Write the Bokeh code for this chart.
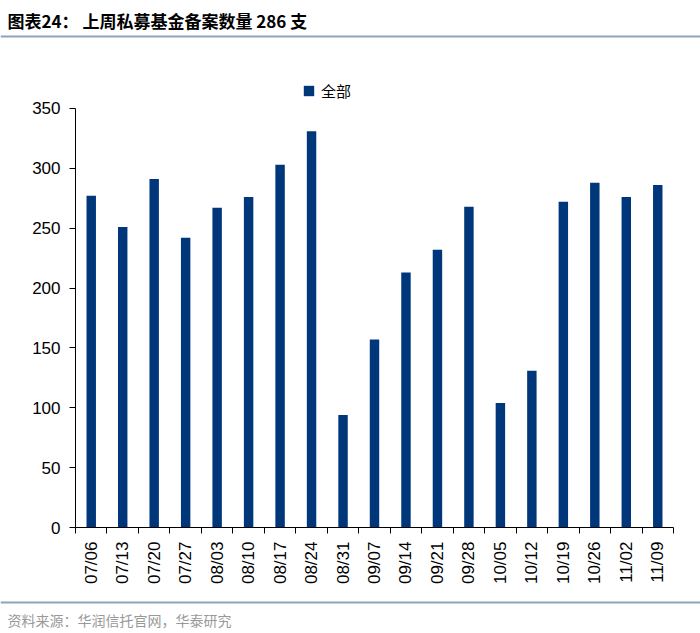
import math
from bokeh.plotting import figure
from bokeh.models import (ColumnDataSource, Range1d, FixedTicker, Label, Span,
                          Legend, LegendItem)
from bokeh.layouts import column, row
from bokeh.embed import file_html
from bokeh.resources import INLINE

# ---- data ----
dates = ["07/06", "07/13", "07/20", "07/27", "08/03", "08/10", "08/17", "08/24",
         "08/31", "09/07", "09/14", "09/21", "09/28", "10/05", "10/12", "10/19",
         "10/26", "11/02", "11/09"]
counts = [277, 251, 291, 242, 267, 276, 303, 331, 94, 157, 213, 232, 268,
          104, 131, 272, 288, 276, 286]
y_ticks = [0, 50, 100, 150, 200, 250, 300, 350]
series_name = "全部"
title_text = "图表24：  上周私募基金备案数量 286 支"
source_text = "资料来源：华润信托官网，华泰研究"

W = 700
HEAD_H, CHART_H, FOOT_H = 40, 557, 36
rule_color = "#8FA3BE"
cjk = "Noto Sans CJK SC"


def blank(height, y0):
    f = figure(width=W, height=height, output_backend="svg",
               toolbar_location=None, x_axis_type=None, y_axis_type=None,
               x_range=Range1d(0, W), y_range=Range1d(y0 + height, y0),
               min_border=0, min_border_left=0, min_border_right=0,
               min_border_top=0, min_border_bottom=0)
    f.outline_line_color = None
    f.xgrid.grid_line_color = None
    f.ygrid.grid_line_color = None
    return f


# header
head = blank(HEAD_H, 0)
head.add_layout(Label(x=7, y=20, text=title_text, text_font=cjk,
                      text_font_size="17px", text_font_style="bold",
                      text_color="black", text_baseline="middle"))
head.add_layout(Span(location=36, dimension="width", line_color=rule_color,
                     line_width=2))

# chart
n = len(dates)
centers = [i + 0.5 for i in range(n)]
bounds = list(range(n + 1))
src = ColumnDataSource(dict(x=centers, y=counts, label=dates))

p = figure(width=W, height=CHART_H, output_backend="svg", toolbar_location=None,
           x_range=Range1d(0, n), y_range=Range1d(0, 381.7),
           min_border_left=75, min_border_right=27,
           min_border_top=30, min_border_bottom=70)
p.outline_line_color = None
p.xgrid.grid_line_color = None
p.ygrid.grid_line_color = None

bar_color = "#00377A"
r = p.vbar(x="x", top="y", width=0.3, bottom=0, source=src,
           fill_color=bar_color, line_color=None)

axis_font = "Liberation Sans"
xa = p.xaxis[0]
xa.ticker = FixedTicker(ticks=centers, minor_ticks=bounds)
xa.major_label_overrides = {c: d for c, d in zip(centers, dates)}
xa.major_label_orientation = math.pi / 2
xa.major_tick_line_color = None
xa.major_tick_out = 5
xa.major_tick_in = 0
xa.minor_tick_line_color = "black"
xa.minor_tick_out = 6
xa.minor_tick_in = 0
xa.axis_line_color = "black"
xa.major_label_text_font = axis_font
xa.major_label_text_font_size = "17px"
xa.major_label_text_color = "black"
xa.major_label_standoff = 8

ya = p.yaxis[0]
ya.ticker = FixedTicker(ticks=y_ticks)
ya.bounds = (0, 350)
ya.minor_tick_line_color = None
ya.major_tick_out = 6
ya.major_tick_in = 0
ya.axis_line_color = "black"
ya.major_tick_line_color = "black"
ya.major_label_text_font = axis_font
ya.major_label_text_font_size = "17px"
ya.major_label_text_color = "black"
ya.major_label_standoff = 9

legend = Legend(items=[LegendItem(label=series_name, renderers=[r])],
                location=(227, 426), orientation="horizontal",
                background_fill_alpha=0, border_line_color=None,
                padding=0, margin=0, spacing=0, glyph_width=13, glyph_height=13,
                label_standoff=6, label_text_font=cjk,
                label_text_font_size="15px", label_text_color="black")
p.add_layout(legend, "center")

# footer
foot = blank(FOOT_H, 0)
foot.add_layout(Span(location=5, dimension="width", line_color=rule_color,
                     line_width=2))
foot.add_layout(Label(x=7, y=22, text=source_text, text_font=cjk,
                      text_font_size="14px", text_color="#999999",
                      text_baseline="middle"))

layout = column(row(head), row(p), row(foot), spacing=0)
open("out.html", "w").write(file_html(layout, INLINE))
